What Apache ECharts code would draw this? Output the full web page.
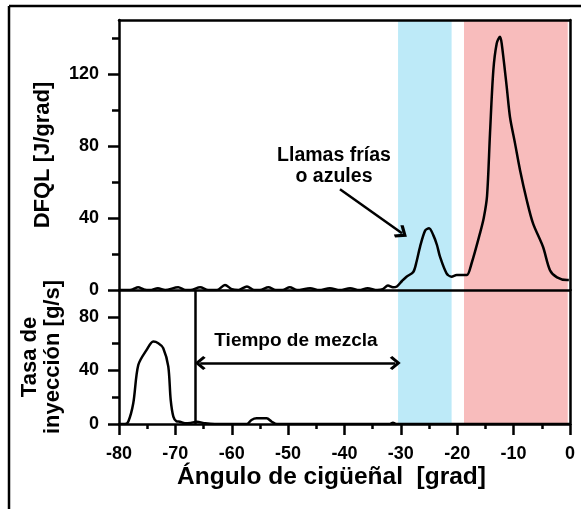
<!DOCTYPE html>
<html>
<head>
<meta charset="utf-8">
<script src="https://cdn.jsdelivr.net/npm/echarts@6/dist/echarts.min.js"></script>
<style>
  html, body { margin: 0; padding: 0; background: #fff; }
  #chart { width: 581px; height: 509px; }
</style>
</head>
<body>
<div id="chart"></div>
<script>
// ángulo de cigüeñal [grad] y DFQL [J/grad]
const dfqlAngle = [-80, -78.5, -77.6, -76.6, -75.6, -74.5, -73.1, -71.8, -69.5, -68.2, -67.3, -65.6, -64.2, -62.6, -61.2, -60, -58.8, -57.3, -56, -55, -53.5, -52.2, -51, -49.7, -48.4, -46.1, -44.5, -42.6, -40.8, -39, -37.4, -35.9, -34.2, -33.2, -32.3, -31.4, -30.7, -29.8, -29, -27.8, -27.2, -26.6, -25.7, -25, -24.25, -23.6, -23.06, -21.9, -21, -20.1, -19.2, -18.3, -17.44, -15.96, -15.3, -14.72, -14.19, -13.6, -13, -12.42, -12.12, -11.23, -10.64, -9.76, -8.87, -7.68, -6.56, -4.79, -3.55, -2.3, -0.53, -0.2];
const dfqlValue = [0, 0, 0.3, 1.5, 0.3, 0, 1, 0, 1.5, 0, 0, 1.5, 0, 0, 2.8, 0.5, 0, 2, 0, 0, 1.5, 0, 0, 1.5, 0, 1, 0, 1, 0, 1, 0, 1, 0, 0.5, 2.5, 1.5, 2, 5, 7.4, 10, 16, 24, 33, 34.3, 30.5, 25, 18.5, 9.3, 7.4, 8.3, 8.3, 8.3, 15, 31.6, 40, 52, 87, 122, 137, 140.7, 137, 113, 96, 81.6, 66.7, 50, 37, 24, 11, 7, 5.5, 5.5];

// tasa de inyección [g/s]
const injAngle = [-80, -79, -78.36, -77.47, -76.58, -75.1, -73.92, -73.03, -72.15, -71.26, -70.83, -70.36, -69.8, -69.2, -68.3, -67.3, -66.2, -64.7, -63, -57.3, -56.5, -55.6, -53.8, -52.9, -52, -32, -31.4, -30.8, 0];
const injValue = [0, 0, 1.7, 15.5, 44, 55.3, 61.5, 60.3, 56.6, 43, 18, 5.5, 2, 1.7, 0.5, 0.8, 1.7, 0.5, 0, 0, 3, 4.2, 4.2, 1.7, 0, 0, 1, 0, 0];

// marcas de ejes
const dfqlMajor = [0, 40, 80, 120];
const dfqlMinor = [20, 60, 100, 140];
const injMajor = [0, 40, 80];
const injMinor = [20, 60];

// zonas sombreadas (llamas frías / llamas calientes)
const blueZone = [-30.5, -21];
const redZone = [-18.8, -0.4];
// fin de inyección y flechas
const injEnd = -66.5;
const mixArrow = [[-65.6, 45.6], [-31, 45.6]];
const coldArrow = [[-40.8, 56], [-29.8, 31.5]];

const chevron = 'path://M0,0 L12,10 L9,13 L0,5.5 L-9,13 L-12,10 Z';
const font = "'Liberation Sans', Arial, sans-serif";
const black = '#000';
const lw = 2.5;

const chart = echarts.init(document.getElementById('chart'));

const zoneData = [
  [{ xAxis: blueZone[0], itemStyle: { color: '#bdeaf8' } }, { xAxis: blueZone[1] }],
  [{ xAxis: redZone[0], itemStyle: { color: '#f8bcbc' } }, { xAxis: redZone[1] }]
];

const axisLine = { show: true, onZero: false, lineStyle: { color: black, width: lw } };

function lineOnly(extra) {
  return Object.assign({
    type: 'value', min: -80, max: 0, z: 4,
    axisLine: axisLine,
    axisTick: { show: false }, axisLabel: { show: false }, splitLine: { show: false }
  }, extra);
}

const labelStyle = { color: black, fontFamily: font, fontWeight: 'bold', fontSize: 18 };
const nameStyle = { color: black, fontFamily: font, fontWeight: 'bold', fontSize: 22, lineHeight: 23 };

chart.setOption({
  animation: false,
  grid: [
    { left: 119, right: 11, top: 20, height: 270 },
    { left: 119, right: 11, top: 290, height: 134 }
  ],
  xAxis: [
    lineOnly({ gridIndex: 0, position: 'bottom' }),
    lineOnly({ gridIndex: 0, position: 'top' }),
    {
      gridIndex: 1, type: 'value', min: -80, max: 0, interval: 10, position: 'bottom', z: 4,
      axisLine: axisLine,
      axisTick: { show: true, length: 11, lineStyle: { color: black, width: lw } },
      minorTick: { show: true, splitNumber: 2, length: 5, lineStyle: { color: black, width: lw } },
      axisLabel: Object.assign({ margin: 21 }, labelStyle),
      splitLine: { show: false },
      name: 'Ángulo de cigüeñal  [grad]',
      nameLocation: 'middle', nameGap: 42,
      nameTextStyle: Object.assign({}, nameStyle, { fontSize: 24.5, padding: [0, 26, 0, 0] })
    }
  ],
  yAxis: [
    {
      gridIndex: 0, type: 'value', min: 0, max: 150, position: 'left', z: 4,
      axisLine: axisLine,
      axisTick: { show: true, length: 11, customValues: dfqlMajor, lineStyle: { color: black, width: lw } },
      axisLabel: Object.assign({ margin: 20, customValues: dfqlMajor }, labelStyle),
      splitLine: { show: false },
      name: 'DFQL [J/grad]', nameLocation: 'middle', nameGap: 65, nameTextStyle: nameStyle
    },
    {
      gridIndex: 0, type: 'value', min: 0, max: 150, position: 'left', z: 4,
      axisLine: { show: false, onZero: false },
      axisTick: { show: true, length: 7, customValues: dfqlMinor, lineStyle: { color: black, width: lw } },
      axisLabel: { show: false }, splitLine: { show: false }
    },
    lineOnly({ gridIndex: 0, min: 0, max: 150, position: 'right' }),
    {
      gridIndex: 1, type: 'value', min: 0, max: 100, position: 'left', z: 4,
      axisLine: axisLine,
      axisTick: { show: true, length: 11, customValues: injMajor, lineStyle: { color: black, width: lw } },
      axisLabel: Object.assign({ margin: 20, customValues: injMajor }, labelStyle),
      splitLine: { show: false },
      name: 'Tasa de\ninyección [g/s]', nameLocation: 'middle', nameGap: 55, nameTextStyle: nameStyle
    },
    {
      gridIndex: 1, type: 'value', min: 0, max: 100, position: 'left', z: 4,
      axisLine: { show: false, onZero: false },
      axisTick: { show: true, length: 7, customValues: injMinor, lineStyle: { color: black, width: lw } },
      axisLabel: { show: false }, splitLine: { show: false }
    },
    lineOnly({ gridIndex: 1, min: 0, max: 100, position: 'right' })
  ],
  series: [
    // zonas de color, debajo de todo
    {
      type: 'line', xAxisIndex: 0, yAxisIndex: 0, data: [], z: 1, silent: true,
      markArea: { silent: true, data: zoneData }
    },
    {
      type: 'line', xAxisIndex: 2, yAxisIndex: 3, data: [], z: 1, silent: true,
      markArea: { silent: true, data: zoneData },
      markLine: {
        silent: true, symbol: ['none', 'none'], label: { show: false },
        lineStyle: { color: black, width: lw, type: 'solid' },
        data: [{ xAxis: injEnd }]
      }
    },
    {
      name: 'DFQL', type: 'line', xAxisIndex: 0, yAxisIndex: 0, z: 3,
      data: dfqlAngle.map((a, i) => [a, dfqlValue[i]]),
      smooth: 0.3, showSymbol: false,
      lineStyle: { color: black, width: lw },
      markLine: {
        silent: true, symbol: ['none', chevron], symbolSize: [15, 12], label: { show: false },
        lineStyle: { color: black, width: lw, type: 'solid' },
        itemStyle: { color: black },
        data: [[{ coord: coldArrow[0] }, { coord: coldArrow[1] }]]
      }
    },
    {
      name: 'Inyección', type: 'line', xAxisIndex: 2, yAxisIndex: 3, z: 3,
      data: injAngle.map((a, i) => [a, injValue[i]]),
      smooth: 0.3, showSymbol: false,
      lineStyle: { color: black, width: lw },
      markLine: {
        silent: true, symbol: [chevron, chevron], symbolSize: [14, 11], label: { show: false },
        lineStyle: { color: black, width: lw, type: 'solid' },
        itemStyle: { color: black },
        data: [[{ coord: mixArrow[0] }, { coord: mixArrow[1] }]]
      }
    }
  ],
  graphic: [
    { type: 'line', shape: { x1: 9, y1: 6, x2: 581, y2: 6 }, style: { stroke: black, lineWidth: lw } },
    { type: 'line', shape: { x1: 9, y1: 6, x2: 9, y2: 509 }, style: { stroke: black, lineWidth: lw } },
    {
      type: 'text', x: 334, y: 145, z: 10,
      style: { text: 'Llamas frías\no azules', fill: black, font: 'bold 19.5px ' + font, align: 'center', lineHeight: 21 }
    },
    {
      type: 'text', x: 296, y: 331, z: 10,
      style: { text: 'Tiempo de mezcla', fill: black, font: 'bold 19px ' + font, align: 'center' }
    }
  ]
});
</script>
</body>
</html>
